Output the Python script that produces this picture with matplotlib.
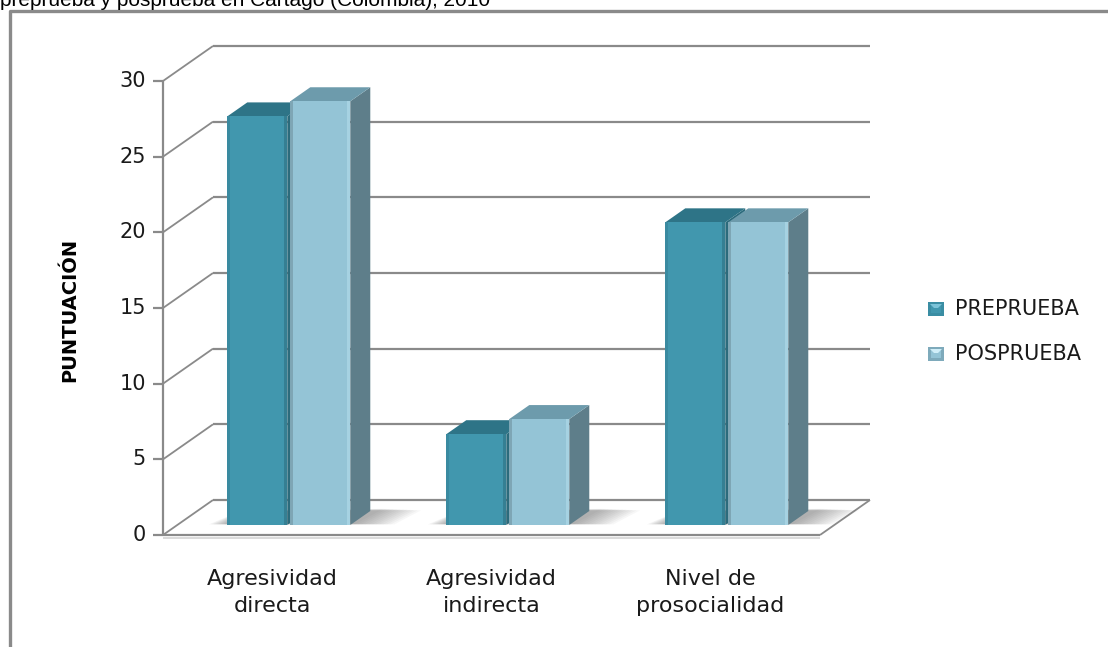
import matplotlib
matplotlib.use("Agg")
import matplotlib.pyplot as plt
from matplotlib.patches import Polygon, Rectangle
from matplotlib.lines import Line2D

# ---- data ----
categories = ["Agresividad\ndirecta", "Agresividad\nindirecta", "Nivel de\nprosocialidad"]
series_names = ["PREPRUEBA", "POSPRUEBA"]
preprueba = [27, 6, 20]
posprueba = [28, 7, 20]
y_ticks = [0, 5, 10, 15, 20, 25, 30]
y_label = "PUNTUACIÓN"
caption = "preprueba y posprueba en Cartago (Colombia), 2010"

# ---- styling ----
W, H, DPI = 1108, 647, 100
GRID = "#8a8a8a"
TXT = "#1a1a1a"
FACES = {
    "PREPRUEBA": dict(front="#4197ae", top="#2e7487", side="#2c6b7c",
                      edge_l="#3a8aa0", edge_r="#357f93",
                      icon="#3a8da3", icon_hi="#7cc3d8"),
    "POSPRUEBA": dict(front="#94c4d6", top="#6d9bac", side="#5e7e8a",
                      edge_l="#7ea6b5", edge_r="#a6d2e2",
                      icon="#7eaabb", icon_hi="#d0eef8"),
}
FONT = "DejaVu Sans"

fig = plt.figure(figsize=(W / DPI, H / DPI), dpi=DPI)
fig.patch.set_facecolor("white")


def fx(px):
    return px / W


def fy(py):
    return 1 - py / H


# front plane of the plot (floor front edge / vertical axis)
AX_L, AX_R, AX_T, AX_B = 163, 820, 81, 535
ax = fig.add_axes([fx(AX_L), fy(AX_B), fx(AX_R) - fx(AX_L), fy(AX_T) - fy(AX_B)])
ncat = len(categories)
ymax = y_ticks[-1]
ax.set_xlim(-0.5, ncat - 0.5)
ax.set_ylim(0, ymax)
ax.axis("off")

px_per_cat = (AX_R - AX_L) / ncat
px_per_val = (AX_B - AX_T) / ymax

# oblique depth: full depth shifts 50 px right and 35 px up
DX = 50 / px_per_cat
DY = 35 / px_per_val


def P(x, y, d):
    return (x + d * DX, y + d * DY)


def line(p, q, **kw):
    ax.add_line(Line2D([p[0], q[0]], [p[1], q[1]], clip_on=False,
                       solid_capstyle="butt", **kw))


def poly(pts, color, z, alpha=1.0):
    ax.add_patch(Polygon(pts, closed=True, facecolor=color, edgecolor="none",
                         lw=0, zorder=z, alpha=alpha, clip_on=False))


x_l, x_r = -0.5, ncat - 0.5

# walls: back gridlines and side-wall diagonals
for v in y_ticks:
    line(P(x_l, v, 1), P(x_r, v, 1), color=GRID, lw=1.6, zorder=1)
    line(P(x_l, v, 0), P(x_l, v, 1), color=GRID, lw=1.3, zorder=1)

# floor outline
line(P(x_l, 0, 0), P(x_r, 0, 0), color=GRID, lw=1.6, zorder=1)
line(P(x_l, -0.22, 0), P(x_r, -0.22, 0), color="#d4d4d4", lw=1.2, zorder=1)
line(P(x_r, 0, 0), P(x_r, 0, 1), color=GRID, lw=1.3, zorder=1)

# vertical axis with ticks and labels
line((x_l, 0), (x_l, ymax), color=GRID, lw=1.6, zorder=3)
tick_len = 10 / px_per_cat
for v in y_ticks:
    line((x_l - tick_len, v), (x_l, v), color=GRID, lw=1.6, zorder=3)
    ax.text(x_l - 17 / px_per_cat, v, str(v), ha="right", va="center",
            fontsize=15, color=TXT, family=FONT)

# bars
BW = 60 / px_per_cat
GAP = 3 / px_per_cat
SHIFT = 2 / px_per_cat
D0, D1 = 10 / 35, 24 / 35
for i in range(ncat):
    c = i + SHIFT
    left_pre = c - BW - GAP / 2
    right_pos = c + GAP / 2 + BW
    # soft floor shadow around the base of the pair (stacked translucent layers)
    n_layers = 12
    for k in range(n_layers):
        g = (n_layers - k) * 1.8 / px_per_cat
        sh = [P(left_pre - g * 0.9, 0, D0 + 0.02), P(right_pos + g * 2.0, 0, D0 + 0.02),
              P(right_pos + g * 2.0 + 0.03, 0, D1 + 0.02 + k * 0.004),
              P(left_pre - g * 0.3, 0, D1)]
        poly(sh, "#4a4a4a", 2, alpha=0.045)

    for s, (name, vals) in enumerate(zip(series_names, [preprueba, posprueba])):
        v = vals[i]
        f = FACES[name]
        xl = left_pre if s == 0 else c + GAP / 2
        xr = xl + BW
        z = 4 + s * 3
        side = [P(xr, 0, D0), P(xr, 0, D1), P(xr, v, D1), P(xr, v, D0)]
        top = [P(xl, v, D0), P(xr, v, D0), P(xr, v, D1), P(xl, v, D1)]
        front = [P(xl, 0, D0), P(xr, 0, D0), P(xr, v, D0), P(xl, v, D0)]
        poly(side, f["side"], z)
        poly(top, f["top"], z)
        poly(front, f["front"], z + 1)
        # bevel strips on the front face
        e = 3 / px_per_cat
        poly([P(xl, 0, D0), P(xl + e, 0, D0), P(xl + e, v, D0), P(xl, v, D0)],
             f["edge_l"], z + 2)
        poly([P(xr - e, 0, D0), P(xr, 0, D0), P(xr, v, D0), P(xr - e, v, D0)],
             f["edge_r"], z + 2)

# category labels
for i, lab in enumerate(categories):
    ax.text(i, -2.25, lab, ha="center", va="top", fontsize=16, color=TXT,
            family=FONT, linespacing=1.45)

# axis title
fig.text(fx(70), fy(310), y_label, rotation=90, ha="center", va="center",
         fontsize=14, fontweight="bold", color="black", family=FONT)

# legend
for k, name in enumerate(series_names):
    cy = 309 + k * 45
    f = FACES[name]
    fig.patches.append(Rectangle((fx(928), fy(cy + 7)), fx(16), 14 / H,
                                 transform=fig.transFigure, facecolor=f["icon"],
                                 edgecolor="none"))
    fig.patches.append(Rectangle((fx(931), fy(cy + 4)), fx(10), 8 / H,
                                 transform=fig.transFigure, facecolor=f["front"],
                                 edgecolor="none"))
    fig.patches.append(Polygon([(fx(930), fy(cy - 5)), (fx(942), fy(cy - 5)),
                                (fx(938), fy(cy - 1)), (fx(934), fy(cy - 1))],
                               closed=True, transform=fig.transFigure,
                               facecolor=f["icon_hi"], edgecolor="none"))
    fig.text(fx(955), fy(cy), name, ha="left", va="center", fontsize=15,
             color=TXT, family=FONT)

# chart frame
fig.add_artist(Line2D([fx(10), fx(10), 1.0], [0.0, fy(11), fy(11)],
                      transform=fig.transFigure, color="#8a8a8a", lw=2.4))

# caption line from the surrounding document, cut by the page edge
fig.text(0.0, fy(6), caption, ha="left", va="baseline", fontsize=15,
         family="Liberation Sans", color="black")

fig.savefig("out.png", dpi=DPI, facecolor="white")
